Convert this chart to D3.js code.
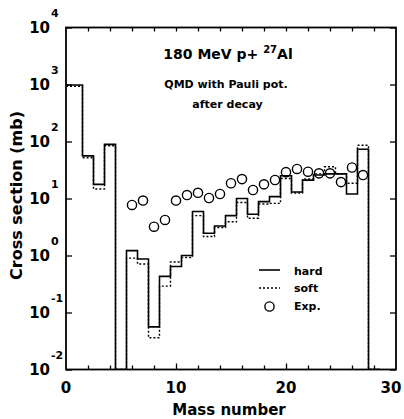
<!DOCTYPE html>
<html>
<head>
<meta charset="utf-8">
<script src="https://cdn.jsdelivr.net/npm/d3@7"></script>
<style>
  body { margin: 0; background: #fff; }
  text { font-family: "DejaVu Sans", sans-serif; font-weight: bold; fill: #000; }
</style>
</head>
<body>
<div id="chart"></div>
<script>
// Data
const massNumbers = d3.range(1, 29);
const hardValues = [980, 56, 17.7, 89, 0, 1.22, 0.87, 0.056, 0.43, 0.64, 1.0, 5.9, 2.46, 3.3,
    5.0, 10, 5.3, 8.8, 10.8, 25, 13, 21, 25.8, 27, 27, 12, 73, 0];
const softValues = [930, 52, 14.7, 84, 0, 0.9, 0.71, 0.036, 0.29, 0.77, 0.92, 5.0, 2.15, 3.1,
    3.9, 8.5, 4.5, 8.0, 8.2, 22.5, 12.5, 22, 27, 36, 27, 18.5, 86, 0];
const expMass = d3.range(6, 28);
const expValues = [7.7, 9.2, 3.2, 4.2, 9.2, 11.5, 12.6, 10.2, 12.0, 18.5, 21.9, 14.1, 17.7, 21.1,
    29, 33, 29.5, 27.6, 27.6, 19.4, 35, 25.8];
const xTickLabels = [0, 10, 20, 30];
const yExponents = [4, 3, 2, 1, 0, -1, -2];

const width = 404, height = 419;
const margin = { top: 27.5, right: 8, bottom: 49.5, left: 66 };

const svg = d3.select('#chart').append('svg')
    .attr('width', width)
    .attr('height', height);

const x = d3.scaleLinear().domain([0, 30]).range([margin.left, width - margin.right]);
const y = d3.scaleLog().domain([1e-2, 1e4]).range([height - margin.bottom, margin.top]);

svg.append('clipPath').attr('id', 'plotClip')
    .append('rect')
    .attr('x', x.range()[0]).attr('y', y.range()[1])
    .attr('width', x.range()[1] - x.range()[0])
    .attr('height', y.range()[0] - y.range()[1]);

// histogram step points, zero bins go to the bottom of the frame
function stepPoints(vals) {
    const pts = [];
    massNumbers.forEach((a, i) => {
        const v = vals[i] > 0 ? vals[i] : y.domain()[0];
        const lo = i === 0 ? x.domain()[0] : a - 0.5;
        pts.push([lo, v], [a + 0.5, v]);
    });
    return pts;
}

const line = d3.line().x(d => x(d[0])).y(d => y(d[1]));

const plot = svg.append('g').attr('clip-path', 'url(#plotClip)');

plot.append('path')
    .attr('d', line(stepPoints(softValues)))
    .attr('fill', 'none')
    .attr('stroke', '#000')
    .attr('stroke-width', 1.4)
    .attr('stroke-dasharray', '2,2');

plot.append('path')
    .attr('d', line(stepPoints(hardValues)))
    .attr('fill', 'none')
    .attr('stroke', '#000')
    .attr('stroke-width', 1.6);

plot.selectAll('.exp')
    .data(expMass.map((a, i) => ({ a, v: expValues[i] })))
    .enter().append('circle')
    .attr('class', 'exp')
    .attr('cx', d => x(d.a))
    .attr('cy', d => y(d.v))
    .attr('r', 4.6)
    .attr('fill', 'none')
    .attr('stroke', '#000')
    .attr('stroke-width', 1.4);

// axes (inward ticks on all four sides)
const yBottom = y.range()[0], yTop = y.range()[1];
const xLeft = x.range()[0], xRight = x.range()[1];
const minorX = d3.range(0, 31, 2).filter(v => v % 10 !== 0);
const majorX = [10, 20];
const decades = yExponents.map(e => Math.pow(10, e));

function styleAxis(g) {
    g.select('.domain').remove();
    g.selectAll('line').attr('stroke', '#000').attr('stroke-width', 1.3);
}

svg.append('g').attr('transform', `translate(0,${yBottom})`)
    .call(d3.axisBottom(x).tickValues(minorX).tickSize(-4).tickFormat(''))
    .call(styleAxis);
svg.append('g').attr('transform', `translate(0,${yBottom})`)
    .call(d3.axisBottom(x).tickValues(majorX).tickSize(-6).tickFormat(''))
    .call(styleAxis);
svg.append('g').attr('transform', `translate(0,${yTop})`)
    .call(d3.axisTop(x).tickValues(minorX.concat(majorX)).tickSize(-4).tickFormat(''))
    .call(styleAxis);
svg.append('g').attr('transform', `translate(${xLeft},0)`)
    .call(d3.axisLeft(y).tickValues(decades).tickSize(-6).tickFormat(''))
    .call(styleAxis);
svg.append('g').attr('transform', `translate(${xRight},0)`)
    .call(d3.axisRight(y).tickValues(decades).tickSize(-6).tickFormat(''))
    .call(styleAxis);

// frame
svg.append('rect')
    .attr('x', xLeft).attr('y', yTop)
    .attr('width', xRight - xLeft).attr('height', yBottom - yTop)
    .attr('fill', 'none')
    .attr('stroke', '#000')
    .attr('stroke-width', 1.8);

// tick labels (last one pulled in so it stays inside the picture)
svg.selectAll('.xlab')
    .data(xTickLabels)
    .enter().append('text')
    .attr('x', d => Math.min(x(d), width - 13))
    .attr('y', yBottom + 23)
    .attr('text-anchor', 'middle')
    .style('font-size', '15px')
    .text(d => d);

const ylab = svg.selectAll('.ylab')
    .data(yExponents)
    .enter().append('g');
ylab.append('text')
    .attr('x', xLeft - 16)
    .attr('y', d => y(Math.pow(10, d)) + 5.5)
    .attr('text-anchor', 'end')
    .style('font-size', '15px')
    .text('10');
ylab.append('text')
    .attr('x', xLeft - 15)
    .attr('y', d => y(Math.pow(10, d)) - 11)
    .style('font-size', '11px')
    .text(d => d);

// axis titles
svg.append('text')
    .attr('x', (xLeft + xRight) / 2 - 2)
    .attr('y', 415)
    .attr('text-anchor', 'middle')
    .style('font-size', '15px')
    .text('Mass number');

svg.append('text')
    .attr('transform', `translate(22,${(yTop + yBottom) / 2 - 3}) rotate(-90)`)
    .attr('text-anchor', 'middle')
    .style('font-size', '16px')
    .text('Cross section (mb)');

// annotation
const title = svg.append('text')
    .attr('x', 228)
    .attr('y', 59)
    .attr('text-anchor', 'middle')
    .style('font-size', '14px');
title.append('tspan').text('180 MeV p+ ');
title.append('tspan').attr('dy', -6).style('font-size', '10px').text('27');
title.append('tspan').attr('dy', 6).text('Al');

svg.append('text')
    .attr('x', 226).attr('y', 87.5)
    .attr('text-anchor', 'middle')
    .style('font-size', '11px')
    .text('QMD with Pauli pot.');

svg.append('text')
    .attr('x', 227.5).attr('y', 108)
    .attr('text-anchor', 'middle')
    .style('font-size', '11px')
    .text('after decay');

// legend
const legend = svg.append('g');
legend.append('line')
    .attr('x1', 259).attr('x2', 280).attr('y1', 270).attr('y2', 270)
    .attr('stroke', '#000').attr('stroke-width', 1.6);
legend.append('line')
    .attr('x1', 259).attr('x2', 280).attr('y1', 288).attr('y2', 288)
    .attr('stroke', '#000').attr('stroke-width', 1.4).attr('stroke-dasharray', '2,2');
legend.append('circle')
    .attr('cx', 269.5).attr('cy', 306.5).attr('r', 4.6)
    .attr('fill', 'none').attr('stroke', '#000').attr('stroke-width', 1.4);
const legendLabels = ['hard', 'soft', 'Exp.'];
legend.selectAll('.ltext')
    .data(legendLabels)
    .enter().append('text')
    .attr('x', 294)
    .attr('y', (d, i) => 274.5 + i * 17.5)
    .style('font-size', '11px')
    .text(d => d);
</script>
</body>
</html>
